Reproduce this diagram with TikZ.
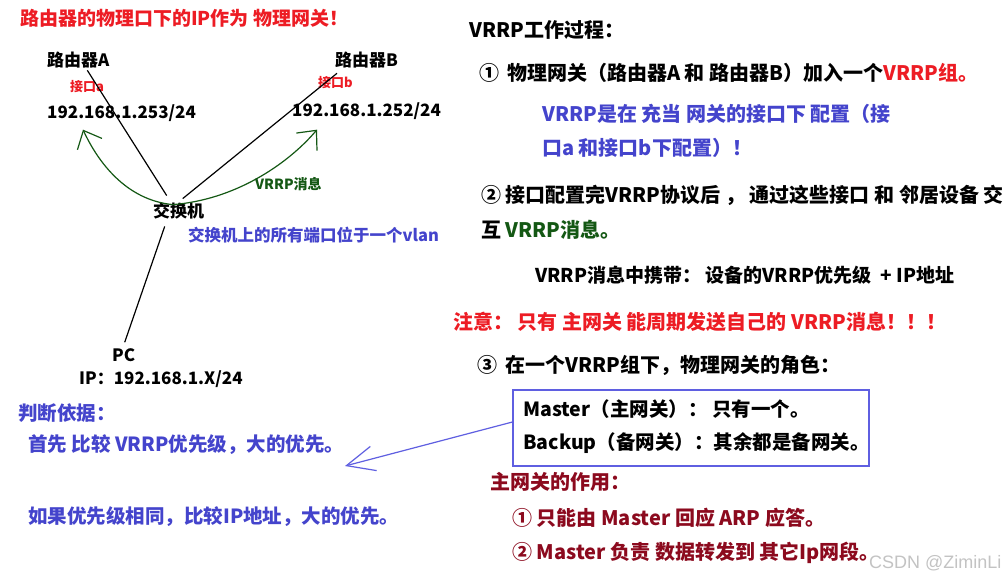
\documentclass[tikz,border=0pt]{standalone}
\usepackage{fontspec}
\setmainfont{Noto Sans CJK SC}
\newfontfamily\wmfont{Liberation Sans}
\usetikzlibrary{arrows.meta}
\definecolor{vred}{RGB}{237,28,36}
\definecolor{vblue}{RGB}{68,68,204}
\definecolor{vgreen}{RGB}{20,88,20}
\definecolor{vdred}{RGB}{140,10,30}
\definecolor{vbox}{RGB}{95,95,225}
\definecolor{vgray}{RGB}{195,195,195}
\newcommand{\fz}[1]{\bfseries\fontsize{#1}{#1}\selectfont}
\tikzset{
  tx/.style={anchor=west, inner sep=0pt, font=\fz{17}},
  big/.style={tx, font=\fz{20}},
  mid/.style={tx, font=\fz{19.5}},
  small/.style={tx, font=\fz{13}},
  link/.style={draw=black, line width=1.2pt},
  vcurve/.style={draw=vgreen, line width=1.2pt, -{Straight Barb[length=15pt,width=27pt,line width=1.2pt]}},
  varrow/.style={draw=vbox, line width=1.2pt, -{Straight Barb[length=28pt,width=25pt,line width=1.2pt]}},
}
\begin{document}
\begin{tikzpicture}[x=1pt,y=-1pt]
\useasboundingbox (0,0) rectangle (1006,582);
\fill[white] (0,0) rectangle (1006,582);
% left diagram
\node[tx, font=\fz{19}, text=vred] (title) at (20,18) {路由器的物理口下的IP作为 物理网关！};
\node[tx] (ra) at (47,60) {路由器A};
\node[small, text=vred] (ia) at (70,87) {接口a};
\node[tx] (ipa) at (47,113) {192.168.1.253/24};
\node[tx] (rb) at (335,60) {路由器B};
\node[small, text=vred] (ib) at (318,83) {接口b};
\node[tx] (ipb) at (292,111) {192.168.1.252/24};
\node[tx] (sw) at (153,211) {交换机};
\node[tx, font=\fz{16.5}, text=vblue] (swnote) at (188,235) {交换机上的所有端口位于一个vlan};
\node[tx, font=\fz{14}, text=vgreen] (vmsg) at (255,184) {VRRP消息};
\node[tx] (pc) at (112,355) {PC};
\node[tx] (pcip) at (79,379) {IP：192.168.1.X/24};
\draw[link] ([shift={(9,2)}]ra.south) -- ([shift={(-12,-7)}]sw.north);
\draw[link] ([shift={(2,5)}]rb.south west) -- ([shift={(4,-4)}]sw.north);
\draw[link] ([shift={(-14,7)}]sw.south) -- ([shift={(1,-6)}]pc.north);
\coordinate (vb) at ([shift={(-6,2)}]sw.north);
\draw[vcurve] (vb) .. controls (126,200) and (98,162) .. ([shift={(36,8)}]ipa.south west);
\draw[vcurve] (vb) .. controls (234,200) and (287,165) .. ([shift={(25,10)}]ipb.south west);
% judgement
\node[mid, text=vblue] (judge) at (18,413) {判断依据：};
\node[mid, text=vblue] (j1) at (28,445) {首先 比较 VRRP优先级，大的优先。};
\node[mid, text=vblue] (j2) at (28,517) {如果优先级相同，比较IP地址，大的优先。};
% right side
\node[big] (rt) at (469,30) {VRRP工作过程：};
\node[big] (r1) at (479,73) {①\hspace{0.4em}物理网关（路由器A 和 路由器B）加入一个\textcolor{vred}{VRRP组。}};
\node[big, text=vblue] (r1b) at (542,114) {VRRP是在 充当 网关的接口下 配置（接};
\node[big, text=vblue] (r1c) at (542,148) {口a 和接口b下配置）！};
\node[big] (r2) at (481,195) {② 接口配置完VRRP协议后 ， 通过这些接口 和 邻居设备 交};
\node[big] (r2b) at (481,230) {互 \textcolor{vgreen}{VRRP消息。}};
\node[tx, font=\fz{19}] (carry) at (535,275) {VRRP消息中携带： 设备的VRRP优先级 \ + IP地址};
\node[big, text=vred] (note) at (453,322) {注意： 只有 主网关 能周期发送自己的 VRRP消息！！！};
\node[big] (r3) at (477,365) {③\hspace{0.4em}在一个VRRP组下，物理网关的角色：};
\node[draw=vbox, line width=1.2pt, minimum width=356pt, minimum height=76pt, inner sep=0pt] (box) at (691,428) {};
\node[mid] (m1) at (523,409) {Master（主网关）： 只有一个。};
\node[mid] (m2) at (523,443) {Backup（备网关）：其余都是备网关。};
\draw[varrow] ([shift={(0,-6)}]box.west) -- ([shift={(317,21)}]j1.west);
\node[big, text=vdred] (mr) at (490,482) {主网关的作用：};
\node[big, text=vdred] (mr1) at (512,518) {① 只能由 Master 回应 ARP 应答。};
\node[big, text=vdred] (mr2) at (512,553) {② Master 负责 数据转发到 其它Ip网段。};
\node[anchor=west, inner sep=0pt, font=\wmfont\fontsize{18}{18}\selectfont, text=vgray] (wm) at (869,563) {CSDN @ZiminLi};
\end{tikzpicture}
\end{document}
